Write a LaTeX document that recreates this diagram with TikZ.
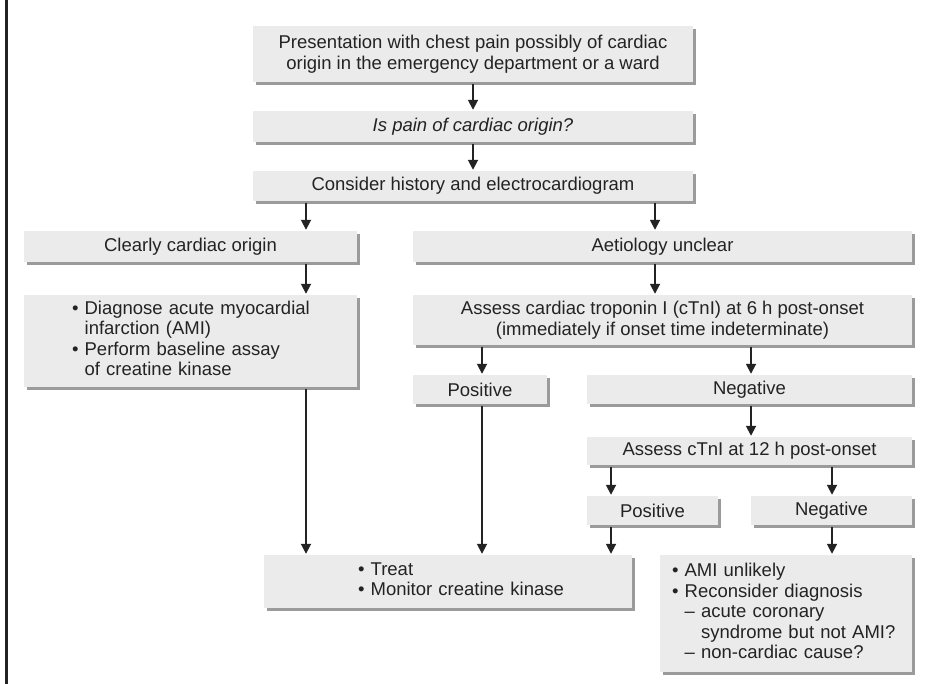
\documentclass[tikz,border=0pt]{standalone}
\usepackage{fontspec}
\setmainfont{Liberation Sans}
\usetikzlibrary{arrows.meta,shadows}
\definecolor{panel}{RGB}{235,235,235}
\definecolor{shade}{RGB}{155,155,155}
\definecolor{ink}{RGB}{35,35,35}
\newcommand{\blt}{\textbullet\ }
\newcommand{\gap}{\phantom{\textbullet\ }}
\newcommand{\indented}[2]{\hspace*{#1}\begin{tabular}{@{}l@{}}#2\end{tabular}}
\tikzset{
  >={Triangle[length=10pt,width=10pt]},
  box/.style={fill=panel,text=ink,inner sep=0pt,align=center,
    font=\fontsize{18.5}{20.5}\selectfont,
    drop shadow={fill=shade,opacity=1,shadow xshift=3pt,shadow yshift=-3pt}},
  list box/.style={box,align=left,text width=#1},
  flow/.style={->,line width=1.8pt,draw=ink,shorten <=2pt,shorten >=1pt},
}
\begin{document}
\begin{tikzpicture}[x=1pt,y=-1pt]
  \useasboundingbox (0,0) rectangle (925,684);
  \draw[line width=3pt,ink] (6.5,0) -- (6.5,684);
  % main column
  \node[box,minimum width=440pt,minimum height=56pt] (pres) at (473,54)
    {Presentation with chest pain possibly of cardiac\\origin in the emergency department or a ward};
  \node[box,minimum width=440pt,minimum height=31pt] (quest) at (473,126.5)
    {\itshape Is pain of cardiac origin?};
  \node[box,minimum width=440pt,minimum height=30pt] (hist) at (473,186)
    {Consider history and electrocardiogram};
  % left branch
  \node[box,minimum width=333pt,minimum height=31pt] (clear) at (190.5,246.5)
    {Clearly cardiac origin};
  \node[list box=333pt,minimum height=92pt] (diag) at (190.5,341)
    {\indented{48pt}{\blt Diagnose acute myocardial\\\gap infarction (AMI)\\
     \blt Perform baseline assay\\\gap of creatine kinase}};
  % right branch
  \node[box,minimum width=499pt,minimum height=31pt] (unclear) at (662.5,246.5)
    {Aetiology unclear};
  \node[box,minimum width=499pt,minimum height=50pt] (tni6) at (662.5,320)
    {Assess cardiac troponin I (cTnI) at 6 h post-onset\\(immediately if onset time indeterminate)};
  \node[box,minimum width=134pt,minimum height=29pt] (pos6) at (480,389.5) {Positive};
  \node[box,minimum width=325pt,minimum height=29pt] (neg6) at (749.5,389.5) {Negative};
  \node[box,minimum width=325pt,minimum height=28pt] (tni12) at (749.5,451)
    {Assess cTnI at 12 h post-onset};
  \node[box,minimum width=131pt,minimum height=29pt] (pos12) at (652.5,510.5) {Positive};
  \node[box,minimum width=161pt,minimum height=29pt] (neg12) at (831.5,510.5) {Negative};
  % outcomes
  \node[list box=368pt,minimum height=53pt] (treat) at (448,581.5)
    {\indented{94pt}{\blt Treat\\\blt Monitor creatine kinase}};
  \node[list box=252pt,minimum height=117pt] (ami) at (786,613.5)
    {\indented{12pt}{\blt AMI unlikely\\\blt Reconsider diagnosis\\
     \gap– acute coronary\\\gap\phantom{– }syndrome but not AMI?\\
     \gap– non-cardiac cause?}};
  % arrow columns
  \coordinate (cA) at (306,0);
  \coordinate (cC) at (482,0);
  \coordinate (cD) at (611,0);
  \coordinate (cE) at (655,0);
  \coordinate (cF) at (751,0);
  \coordinate (cG) at (832,0);
  \draw[flow] (pres) -- (quest);
  \draw[flow] (quest) -- (hist);
  \draw[flow] (hist.south -| cA) -- (clear.north -| cA);
  \draw[flow] (hist.south -| cE) -- (unclear.north -| cE);
  \draw[flow] (clear.south -| cA) -- (diag.north -| cA);
  \draw[flow] (unclear.south -| cE) -- (tni6.north -| cE);
  \draw[flow] (tni6.south -| cC) -- (pos6.north -| cC);
  \draw[flow] (tni6.south -| cF) -- (neg6.north -| cF);
  \draw[flow] (neg6.south -| cF) -- (tni12.north -| cF);
  \draw[flow] (tni12.south -| cD) -- (pos12.north -| cD);
  \draw[flow] (tni12.south -| cG) -- (neg12.north -| cG);
  \draw[flow] (diag.south -| cA) -- (treat.north -| cA);
  \draw[flow] (pos6.south -| cC) -- (treat.north -| cC);
  \draw[flow] (pos12.south -| cD) -- (treat.north -| cD);
  \draw[flow] (neg12.south -| cG) -- (ami.north -| cG);
\end{tikzpicture}
\end{document}
